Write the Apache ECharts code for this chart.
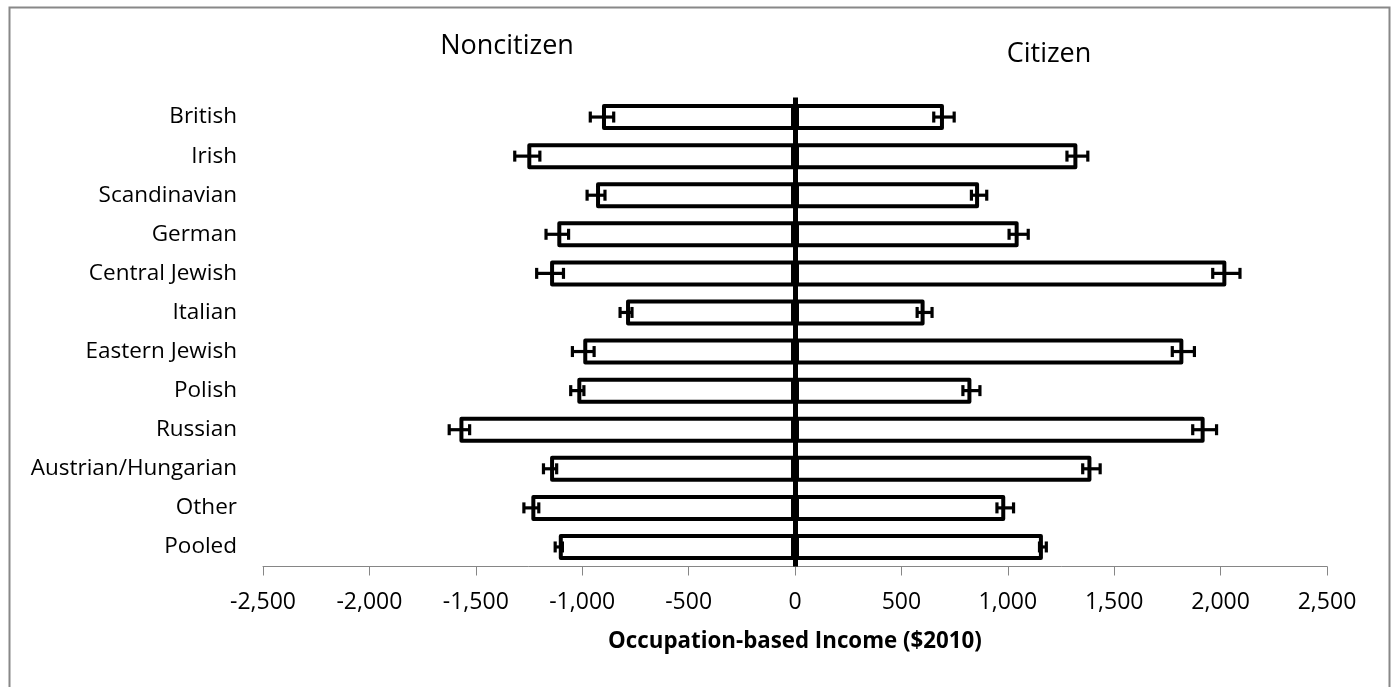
<!DOCTYPE html>
<html>
<head>
<meta charset="utf-8">
<script src="https://cdn.jsdelivr.net/npm/echarts@6/dist/echarts.min.js"></script>
<style>
html,body{margin:0;padding:0;background:#fff;}
#chart{width:1393px;height:687px;}
</style>
</head>
<body>
<div id="chart"></div>
<script>
const categories = ['British','Irish','Scandinavian','German','Central Jewish','Italian','Eastern Jewish','Polish','Russian','Austrian/Hungarian','Other','Pooled'];
const noncitizen = [-907, -1258, -935, -1117, -1151, -794, -995, -1023, -1577, -1151, -1239, -1110];
const noncitizenErr = [55, 59, 42, 53, 63, 28, 51, 31, 48, 31, 35, 17];
const citizen = [700, 1327, 865, 1051, 2027, 609, 1825, 829, 1925, 1393, 988, 1165];
const citizenErr = [48, 49, 36, 45, 64, 35, 52, 40, 56, 41, 39, 16];
const xTicks = {min: -2500, max: 2500, interval: 500};

const FONT = '"Open Sans", "Noto Sans", sans-serif';

const errData = [];
categories.forEach((c, i) => {
  errData.push([i, noncitizen[i], noncitizenErr[i]]);
  errData.push([i, citizen[i], citizenErr[i]]);
});

function renderErr(params, api) {
  const idx = api.value(0), v = api.value(1), e = api.value(2);
  const p1 = api.coord([v - e, idx]);
  const p2 = api.coord([v + e, idx]);
  const h = 5.5;
  const style = {stroke: '#000', lineWidth: 3.2};
  return {
    type: 'group',
    children: [
      {type: 'line', shape: {x1: p1[0], y1: p1[1], x2: p2[0], y2: p2[1]}, style: style},
      {type: 'line', shape: {x1: p1[0], y1: p1[1] - h, x2: p1[0], y2: p1[1] + h}, style: style},
      {type: 'line', shape: {x1: p2[0], y1: p2[1] - h, x2: p2[0], y2: p2[1] + h}, style: style}
    ]
  };
}

const chart = echarts.init(document.getElementById('chart'), null, {renderer: 'canvas'});
const barStyle = {color: '#fff', borderColor: '#000', borderWidth: 4, borderJoin: 'round'};
chart.setOption({
  animation: false,
  backgroundColor: '#fff',
  textStyle: {fontFamily: FONT},
  grid: {left: 263, right: 66, top: 97.5, bottom: 120.5, containLabel: false},
  xAxis: {
    type: 'value',
    min: xTicks.min, max: xTicks.max, interval: xTicks.interval,
    axisLine: {show: true, onZero: false, lineStyle: {color: '#868686', width: 1}},
    axisTick: {show: true, length: 9, lineStyle: {color: '#868686', width: 1}},
    splitLine: {show: false},
    axisLabel: {
      color: '#000', fontSize: 23, fontFamily: FONT, margin: 24,
      formatter: v => v.toLocaleString('en-US')
    },
    name: 'Occupation-based Income ($2010)',
    nameLocation: 'middle',
    nameGap: 64,
    nameTextStyle: {color: '#000', fontSize: 22.3, fontWeight: 'bold', fontFamily: FONT}
  },
  yAxis: {
    type: 'category',
    data: categories,
    inverse: true,
    axisLine: {show: false},
    axisTick: {show: false},
    axisLabel: {color: '#000', fontSize: 22.5, fontFamily: FONT, margin: 26}
  },
  graphic: [
    {type: 'rect', left: 7, top: 5, shape: {width: 1380, height: 700},
     style: {fill: 'none', stroke: '#888', lineWidth: 2}, silent: true, z: -1},
    {type: 'text', x: 507, y: 46,
     style: {text: 'Noncitizen', font: '27px ' + FONT, fill: '#000', textAlign: 'center', textVerticalAlign: 'middle'}},
    {type: 'text', x: 1049, y: 54,
     style: {text: 'Citizen', font: '27px ' + FONT, fill: '#000', textAlign: 'center', textVerticalAlign: 'middle'}}
  ],
  series: [
    {
      name: 'Noncitizen', type: 'bar', data: noncitizen,
      barWidth: 26, barGap: '-100%',
      itemStyle: barStyle, silent: true, z: 2
    },
    {
      name: 'Citizen', type: 'bar', data: citizen,
      barWidth: 26, barGap: '-100%',
      itemStyle: barStyle, silent: true, z: 2,
      markLine: {
        silent: true, symbol: ['none', 'none'],
        label: {show: false},
        lineStyle: {color: '#000', width: 5, type: 'solid'},
        data: [{xAxis: 0}],
        z: 5
      }
    },
    {
      name: 'Errors', type: 'custom', data: errData,
      renderItem: renderErr,
      encode: {x: 1, y: 0},
      silent: true, z: 4
    }
  ]
});
</script>
</body>
</html>
